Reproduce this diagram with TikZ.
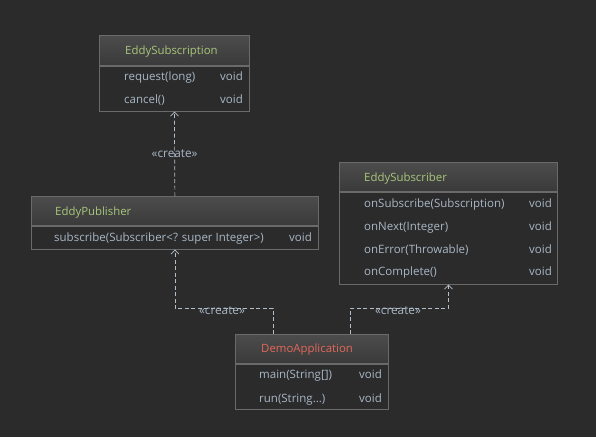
\documentclass[tikz,border=0pt]{standalone}
\usepackage{fontspec}
\setmainfont{Open Sans}
\usetikzlibrary{positioning,arrows.meta}
\definecolor{canvas}{HTML}{2B2B2B}
\definecolor{frame}{HTML}{6A6A6A}
\definecolor{hdrtop}{HTML}{4C4C4C}
\definecolor{hdrbot}{HTML}{3A3A3A}
\definecolor{clsgreen}{HTML}{A8C77A}
\definecolor{clsred}{HTML}{E2685A}
\definecolor{memtext}{HTML}{A9B7C6}
\definecolor{depline}{HTML}{B4BEC8}
\tikzset{
  hdr/.style={draw=frame,top color=hdrtop,bottom color=hdrbot,anchor=north west,
              inner sep=0pt,line width=0.8pt},
  body/.style={draw=frame,fill=canvas,anchor=north west,inner sep=0pt,line width=0.8pt},
  txt/.style={inner sep=0pt,text height=8.5pt,text depth=2.5pt,yshift=-0.8pt},
  cname/.style={txt,text=clsgreen,font=\fontsize{11.4}{13}\selectfont,anchor=west},
  member/.style={txt,text=memtext,font=\fontsize{11.5}{13}\selectfont,anchor=west},
  ret/.style={txt,text=memtext,font=\fontsize{11.5}{13}\selectfont,anchor=east},
  stereo/.style={txt,text=memtext,font=\fontsize{11.8}{13}\selectfont},
  dep/.style={-{Straight Barb[length=4pt,width=8pt]},draw=depline,line width=0.7pt,
              dash pattern=on 4pt off 2.5pt}
}
\begin{document}
\begin{tikzpicture}[x=1pt,y=-1pt]
  \fill[canvas] (0,0) rectangle (596,437);
  \useasboundingbox (0,0) rectangle (596,437);

  % EddySubscription
  \node[hdr,minimum width=150pt,minimum height=30pt] (subnhdr) at (99,35) {};
  \node[body,minimum width=150pt,minimum height=45pt] (subn) at (subnhdr.south west) {};
  \node[cname] (subnname) at (125,51) {EddySubscription};
  \node[member] (subnreq) at (124,77) {request(long)};
  \node[ret] (subnreqret) at (243,77) {void};
  \node[member] (subncan) at (124,100) {cancel()};
  \node[ret] (subncanret) at (243,100) {void};

  % EddyPublisher
  \node[hdr,minimum width=287pt,minimum height=29pt] (pubhdr) at (31,196) {};
  \node[body,minimum width=287pt,minimum height=23pt] (pub) at (pubhdr.south west) {};
  \node[cname] (pubname) at (55,212) {EddyPublisher};
  \node[member] (pubsub) at (54,238) {subscribe(Subscriber<? super Integer>)};
  \node[ret] (pubsubret) at (312,238) {void};

  % EddySubscriber
  \node[hdr,minimum width=218pt,minimum height=29pt] (sbrhdr) at (339,162) {};
  \node[body,minimum width=218pt,minimum height=92pt] (sbr) at (sbrhdr.south west) {};
  \node[cname] (sbrname) at (364,178) {EddySubscriber};
  \node[member] (sbrsub) at (364,204) {onSubscribe(Subscription)};
  \node[ret] (sbrsubret) at (552,204) {void};
  \node[member] (sbrnext) at (364,227) {onNext(Integer)};
  \node[ret] (sbrnextret) at (552,227) {void};
  \node[member] (sbrerr) at (364,250) {onError(Throwable)};
  \node[ret] (sbrerrret) at (552,250) {void};
  \node[member] (sbrcomp) at (364,272) {onComplete()};
  \node[ret] (sbrcompret) at (552,272) {void};

  % DemoApplication
  \node[hdr,minimum width=153pt,minimum height=29pt] (demohdr) at (235,334) {};
  \node[body,minimum width=153pt,minimum height=45pt] (demo) at (demohdr.south west) {};
  \node[cname,text=clsred] (demoname) at (261,349) {DemoApplication};
  \node[member] (demomain) at (259,375) {main(String[])};
  \node[ret] (demomainret) at (382,375) {void};
  \node[member] (demorun) at (259,399) {run(String...)};
  \node[ret] (demorunret) at (382,399) {void};

  % dependencies
  \draw[dep] (pubhdr.north) -- node[stereo] {«create»} (subn.south);
  \draw[dep] ([xshift=-38.5pt]demohdr.north) -- ++(0,-26) coordinate (leftbend) -| (pub.south);
  \draw[dep] ([xshift=38.5pt]demohdr.north) -- ++(0,-26) coordinate (rightbend) -| (sbr.south);
  \node[stereo] (leftlbl) at (222,311) {«create»};
  \node[stereo] (rightlbl) at (398,311) {«create»};
\end{tikzpicture}
\end{document}
